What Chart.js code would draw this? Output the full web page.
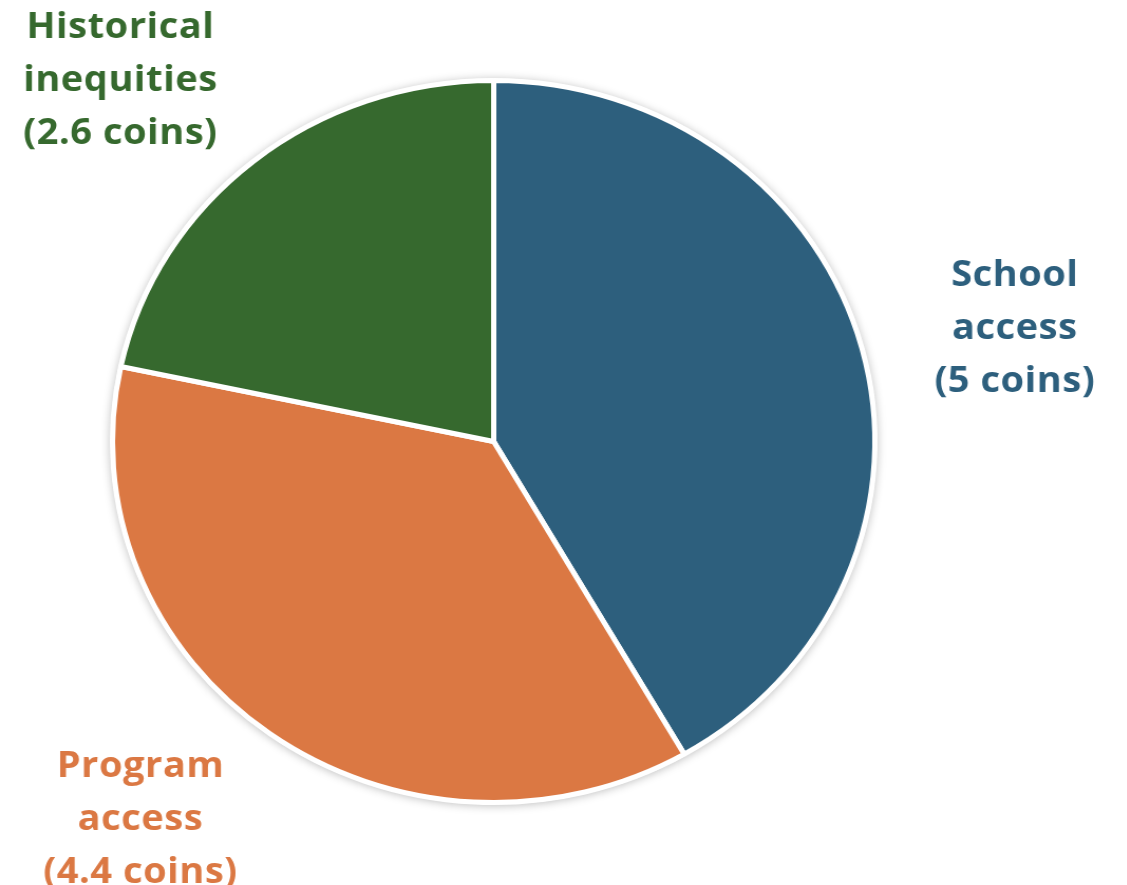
<!DOCTYPE html>
<html>
<head>
<meta charset="utf-8">
<script src="https://cdn.jsdelivr.net/npm/chart.js@4"></script>
<style>
  html, body { margin: 0; padding: 0; background: #ffffff; overflow: hidden; }
  /* the source picture is slightly stretched sideways */
  #wrap { width: 1067px; height: 885px; transform: scaleX(1.056); transform-origin: 0 0; }
  canvas { display: block; }
</style>
</head>
<body>
<div id="wrap"><canvas id="pieChart" width="1067" height="885"></canvas></div>
<script>
const categories = ["School access", "Program access", "Historical inequities"];
const coins = [5, 4.4, 2.6];
const colors = ["#2d5f7d", "#db7843", "#36692e"];
// label lines shown next to each slice
const labelLines = [
  ["School", "access", "(5 coins)"],
  ["Program", "access", "(4.4 coins)"],
  ["Historical", "inequities", "(2.6 coins)"],
];

// soft shadow behind the pie
const pieShadow = {
  id: "pieShadow",
  beforeDatasetsDraw(chart) {
    const arc = chart.getDatasetMeta(0).data[0];
    if (!arc) return;
    const ctx = chart.ctx;
    ctx.save();
    ctx.beginPath();
    ctx.arc(arc.x, arc.y, arc.outerRadius + 2, 0, Math.PI * 2);
    ctx.fillStyle = "#ffffff";
    ctx.shadowColor = "rgba(0,0,0,0.28)";
    ctx.shadowBlur = 10;
    ctx.shadowOffsetX = 0;
    ctx.shadowOffsetY = 1;
    ctx.fill();
    ctx.restore();
  },
};

// slice labels drawn outside the pie
const sliceLabels = {
  id: "sliceLabels",
  afterDraw(chart, args, opts) {
    const ctx = chart.ctx;
    ctx.save();
    ctx.font = "bold 36px 'Open Sans', sans-serif";
    ctx.letterSpacing = "0.5px";
    ctx.textAlign = "center";
    ctx.textBaseline = "middle";
    opts.anchors.forEach((pos, i) => {
      ctx.fillStyle = colors[i];
      labelLines[i].forEach((line, j) => {
        ctx.fillText(line, pos[0], pos[1] + j * opts.lineHeight);
      });
    });
    ctx.restore();
  },
};

new Chart(document.getElementById("pieChart").getContext("2d"), {
  type: "pie",
  data: {
    labels: categories,
    datasets: [{
      data: coins,
      backgroundColor: colors,
      borderColor: "#ffffff",
      borderWidth: 5,
    }],
  },
  options: {
    responsive: false,
    animation: false,
    layout: { padding: { left: 104, right: 236, top: 78, bottom: 80 } },
    plugins: {
      legend: { display: false },
      tooltip: { enabled: false },
      sliceLabels: {
        anchors: [[961, 276], [133, 767], [114, 28]],
        lineHeight: 53,
      },
    },
  },
  plugins: [pieShadow, sliceLabels],
});
</script>
</body>
</html>
